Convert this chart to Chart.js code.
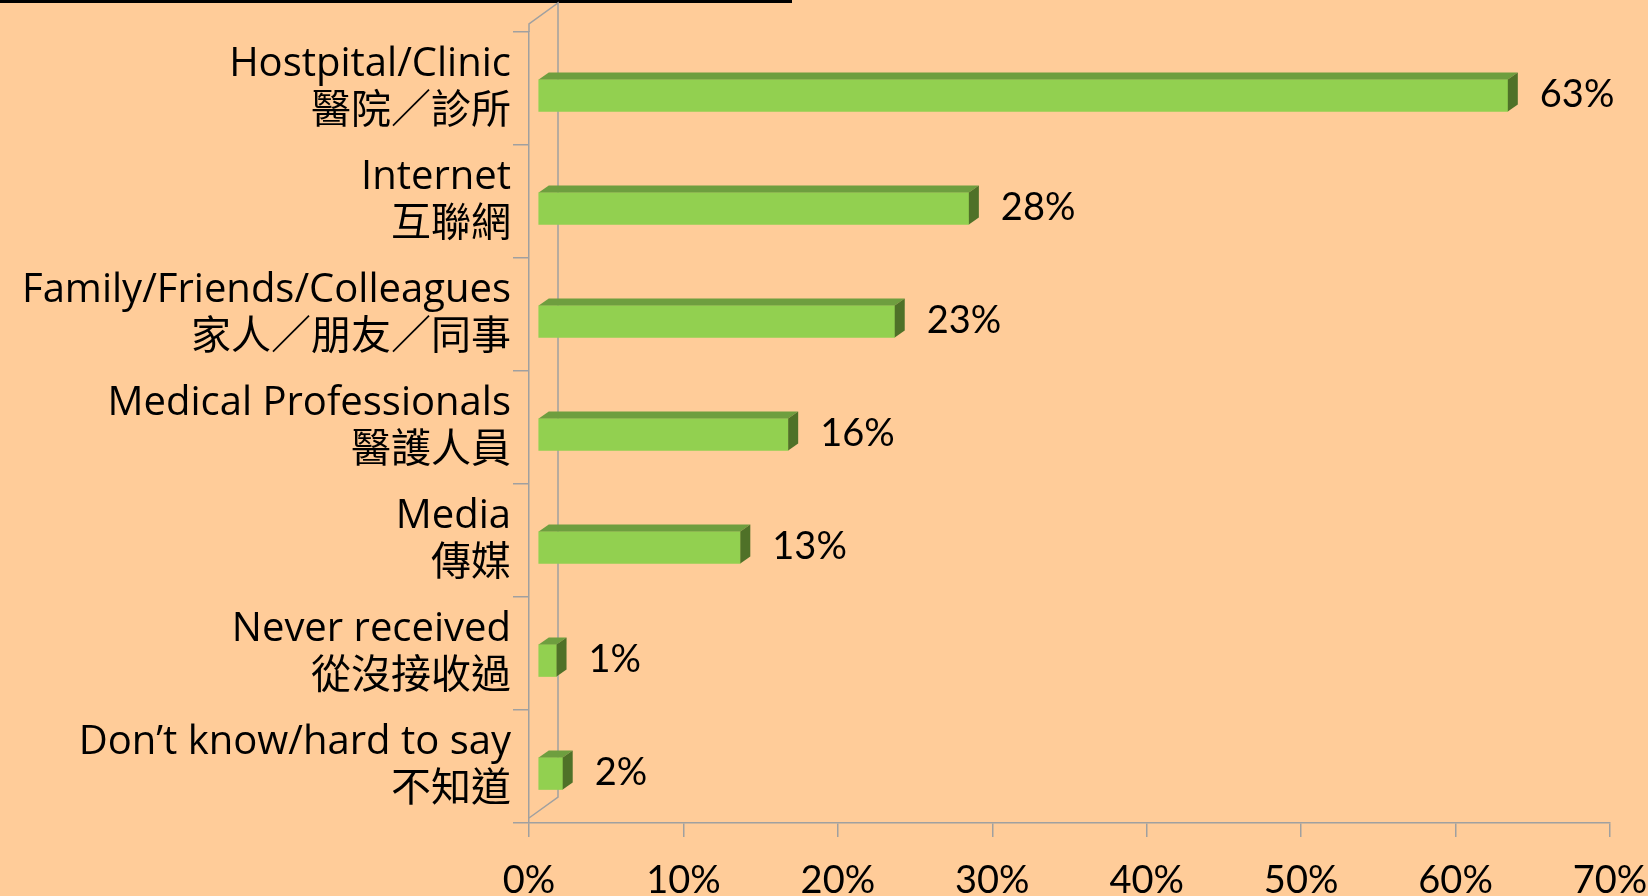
<!DOCTYPE html>
<html>
<head>
<meta charset="utf-8">
<script src="https://cdn.jsdelivr.net/npm/chart.js@4.4.1/dist/chart.umd.min.js"></script>
<style>
    html, body { margin: 0; padding: 0; background: #ffcc99; }
    #wrap { position: relative; width: 1648px; height: 896px; overflow: hidden; }
</style>
</head>
<body>
<div id="wrap"><canvas id="chart"></canvas></div>
<script>
// where respondents got their info - share of respondents (%)
const categories = [
    ['Hostpital/Clinic', '醫院／診所'],
    ['Internet', '互聯網'],
    ['Family/Friends/Colleagues', '家人／朋友／同事'],
    ['Medical Professionals', '醫護人員'],
    ['Media', '傳媒'],
    ['Never received', '從沒接收過'],
    ['Don\u2019t know/hard to say', '不知道']
];
const shares = [62.8, 27.9, 23.1, 16.2, 13.1, 1.2, 1.6];
const xTicks = [0, 10, 20, 30, 40, 50, 60, 70];

// look
const AXIS = '#a0a0a0';
const FRONT = '#92d050';
const TOP = '#6e9e3f';
const SIDE = '#4f7128';
const DEPTH_X = 10, DEPTH_Y = 7;   // 3d extrusion of the bars
const SHIFT_X = 9, SHIFT_Y = 7;    // bars sit a bit behind the front plane
const LABEL_FONT = "'Open Sans', 'Noto Sans CJK TC', sans-serif";
const NUM_FONT = "Lato, sans-serif";

// fake 3d: back wall, bar top/side faces, value labels
const bars3d = {
    id: 'bars3d',
    beforeDraw(chart) {
        const ctx = chart.ctx;
        const a = chart.chartArea;
        ctx.save();
        // title underline, the title itself is cut off above the picture
        ctx.fillStyle = '#000';
        ctx.fillRect(0, 0, 792, 3);
        // side wall edges
        ctx.strokeStyle = AXIS;
        ctx.lineWidth = 1.5;
        ctx.beginPath();
        ctx.moveTo(a.left, a.top);
        ctx.lineTo(a.left, a.top - 8);
        ctx.lineTo(a.left + 29, a.top - 29);
        ctx.lineTo(a.left + 29, a.bottom - 26);
        ctx.lineTo(a.left, a.bottom - 5);
        ctx.stroke();
        ctx.restore();
    },
    beforeDatasetsDraw(chart) {
        chart.ctx.save();
        chart.ctx.translate(SHIFT_X, SHIFT_Y);
    },
    afterDatasetsDraw(chart) {
        const ctx = chart.ctx;
        const meta = chart.getDatasetMeta(0);
        meta.data.forEach(bar => {
            const { x, y, base, height } = bar.getProps(['x', 'y', 'base', 'height'], true);
            const top = y - height / 2, bottom = y + height / 2;
            ctx.fillStyle = TOP;
            ctx.beginPath();
            ctx.moveTo(base, top);
            ctx.lineTo(base + DEPTH_X, top - DEPTH_Y);
            ctx.lineTo(x + DEPTH_X, top - DEPTH_Y);
            ctx.lineTo(x, top);
            ctx.closePath();
            ctx.fill();
            ctx.fillStyle = SIDE;
            ctx.beginPath();
            ctx.moveTo(x, top);
            ctx.lineTo(x + DEPTH_X, top - DEPTH_Y);
            ctx.lineTo(x + DEPTH_X, bottom - DEPTH_Y);
            ctx.lineTo(x, bottom);
            ctx.closePath();
            ctx.fill();
        });
        ctx.restore();

        // value labels
        ctx.save();
        ctx.font = '38px ' + NUM_FONT;
        ctx.fillStyle = '#000';
        ctx.textAlign = 'left';
        ctx.textBaseline = 'middle';
        meta.data.forEach((bar, i) => {
            ctx.fillText(Math.round(shares[i]) + '%', bar.x + SHIFT_X + 32, bar.y + 6);
        });
        ctx.restore();
    }
};

const ctx = document.getElementById('chart').getContext('2d');
new Chart(ctx, {
    type: 'bar',
    data: {
        labels: categories,
        datasets: [{
            data: shares,
            backgroundColor: FRONT,
            borderWidth: 0,
            barThickness: 32,
            clip: false
        }]
    },
    options: {
        indexAxis: 'y',
        responsive: true,
        maintainAspectRatio: false,
        animation: false,
        layout: { padding: { top: 32, right: 38, left: 0, bottom: 0 } },
        plugins: {
            legend: { display: false },
            tooltip: { enabled: false }
        },
        scales: {
            x: {
                min: 0,
                max: 70,
                afterBuildTicks: s => { s.ticks = xTicks.map(v => ({ value: v })); },
                afterFit: s => {
                    s.height = 73;
                    s.paddingLeft = 0;
                    s.paddingRight = 0;
                },
                ticks: {
                    callback: v => v + '%',
                    color: '#000',
                    font: { family: NUM_FONT, size: 38 },
                    padding: 21,
                    maxRotation: 0
                },
                grid: { drawOnChartArea: false, color: AXIS, lineWidth: 1.5, tickLength: 14 },
                border: { color: AXIS, width: 1.5 }
            },
            y: {
                afterFit: s => {
                    s.width = 529;
                    s.paddingTop = 0;
                    s.paddingBottom = 0;
                },
                ticks: {
                    color: '#000',
                    font: { family: LABEL_FONT, size: 40, lineHeight: 1.17 },
                    padding: 2
                },
                grid: { drawOnChartArea: false, color: AXIS, lineWidth: 1.5, tickLength: 16, offset: true },
                border: { color: AXIS, width: 1.5 }
            }
        }
    },
    plugins: [bars3d]
});
</script>
</body>
</html>
